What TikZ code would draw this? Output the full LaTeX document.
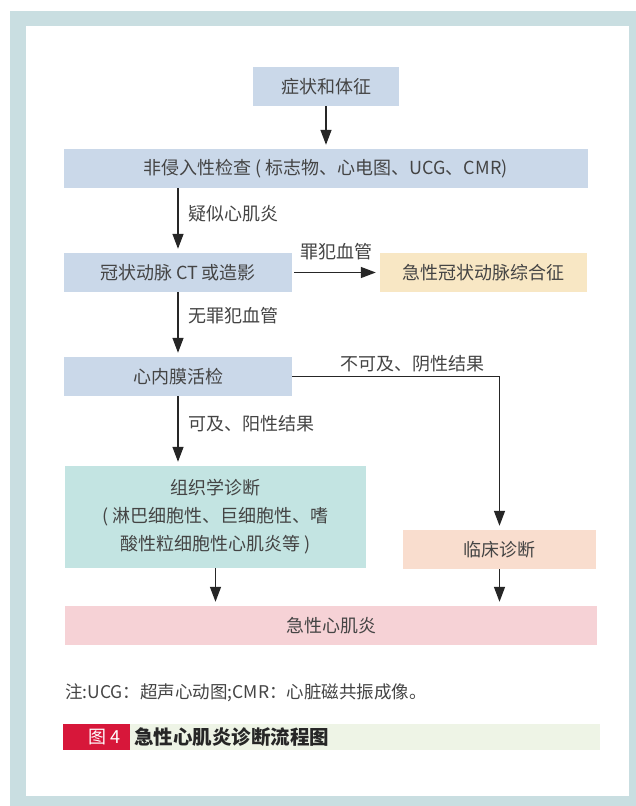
\documentclass[tikz,border=0pt]{standalone}
\usepackage{fontspec}
\setmainfont{Noto Sans CJK SC}
\usetikzlibrary{arrows.meta}
\definecolor{framec}{HTML}{C9DEE1}
\definecolor{blueb}{HTML}{CAD8E9}
\definecolor{yellowb}{HTML}{F8E7C4}
\definecolor{tealb}{HTML}{C3E4E2}
\definecolor{peachb}{HTML}{F9DDCE}
\definecolor{pinkb}{HTML}{F6D2D6}
\definecolor{capred}{HTML}{D7173A}
\definecolor{capgreen}{HTML}{EEF4E6}
\definecolor{txt}{HTML}{444444}
\definecolor{arrc}{HTML}{262626}
\tikzset{
  box/.style={rectangle, inner sep=0pt, text=txt, font=\fontsize{18pt}{28pt}\selectfont, align=center},
  lbl/.style={inner sep=0pt, text=txt, font=\fontsize{18pt}{22pt}\selectfont},
  arr/.style={draw=arrc, line width=1.3pt, -{Triangle[length=15pt,width=11pt]}, shorten >=4pt},
}
\begin{document}
\begin{tikzpicture}[x=1pt,y=-1pt]
\useasboundingbox (0,0) rectangle (636,806);
\fill[framec] (10,11) rectangle (636,806);
\fill[white] (26,26) rectangle (629,796);

\node[box, fill=blueb, minimum width=146pt, minimum height=39pt] (s1) at (326,86.5) {症状和体征};
\node[box, fill=blueb, minimum width=524pt, minimum height=39pt] (s2) at (325.5,168.5) {非侵入性检查 ( 标志物、心电图、UCG、CMR)};
\node[box, fill=blueb, minimum width=228pt, minimum height=39pt] (s3) at (178,272.5) {冠状动脉 CT 或造影};
\node[box, fill=yellowb, minimum width=207pt, minimum height=39pt] (s4) at (483.5,272.5) {急性冠状动脉综合征};
\node[box, fill=blueb, minimum width=228pt, minimum height=39pt] (s5) at (178,376.5) {心内膜活检};
\node[box, fill=tealb, minimum width=301pt, minimum height=102pt] (s6) at (215.5,517) {组织学诊断\\( 淋巴细胞性、巨细胞性、嗜\\酸性粒细胞性心肌炎等 )};
\node[box, fill=peachb, minimum width=193pt, minimum height=39pt] (s7) at (499.5,549.5) {临床诊断};
\node[box, fill=pinkb, minimum width=532pt, minimum height=39pt] (s8) at (331,625.5) {急性心肌炎};

\node[lbl, anchor=west] (l1) at (188,214) {疑似心肌炎};
\node[lbl] (l2) at (336,252) {罪犯血管};
\node[lbl, anchor=west] (l3) at (188,316) {无罪犯血管};
\node[lbl, anchor=west] (l4) at (340,364) {不可及、阴性结果};
\node[lbl, anchor=west] (l5) at (188,424) {可及、阳性结果};

\draw[arr] (s1.south) -- (s1.south |- s2.north);
\draw[arr] (s3.north |- s2.south) -- (s3.north);
\draw[arr] ([xshift=2pt]s3.east) -- (s4.west);
\draw[arr] (s3.south) -- (s5.north);
\draw[arr] (s5.south) -- (s5.south |- s6.north);
\draw[arr] (s5.east) -| (s7.north);
\draw[arr] (s6.south) -- (s6.south |- s8.north);
\draw[arr] (s7.south) -- (s7.south |- s8.north);

\node[lbl, anchor=west, font=\fontsize{17.5pt}{20pt}\selectfont] (note) at (65,693) {注:UCG：超声心动图;CMR：心脏磁共振成像。};

\fill[capred] (63,724) rectangle (130,750);
\fill[capgreen] (130,724) rectangle (600,750);
\node[inner sep=0pt, text=white, font=\fontsize{18pt}{22pt}\selectfont] (fig) at (104.5,737) {图 4};
\node[inner sep=0pt, anchor=west, text=black!85, font=\fontsize{19.5pt}{22pt}\selectfont\bfseries] (cap) at (134,737) {急性心肌炎诊断流程图};
\end{tikzpicture}
\end{document}
